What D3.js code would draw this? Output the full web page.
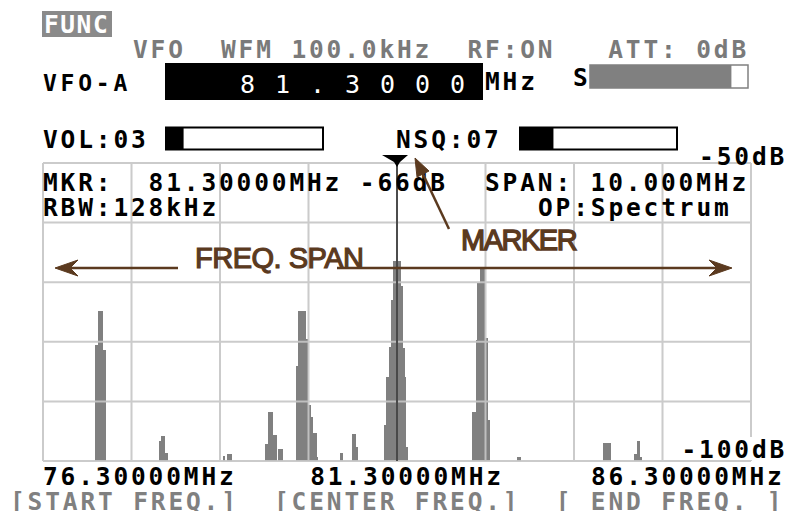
<!DOCTYPE html>
<html>
<head>
<meta charset="utf-8">
<script src="https://cdn.jsdelivr.net/npm/d3@7"></script>
<style>
  body { margin: 0; background: #fff; }
  svg { display: block; }
  text { white-space: pre; }
</style>
</head>
<body>
<div id="chart"></div>
<script>
// spectrum bins: [start MHz, end MHz, level dB]
const spectrum = [
  [77.04, 77.07, -80.5], [77.07, 77.15, -74.8], [77.15, 77.19, -81.4],
  [77.94, 77.96, -96.6], [77.96, 78.02, -95.8], [78.02, 78.06, -98.7],
  [78.84, 78.87, -99.2], [78.90, 78.97, -98.8],
  [79.44, 79.48, -97.2], [79.48, 79.55, -91.7], [79.55, 79.60, -95.6], [79.62, 79.69, -98.0],
  [79.87, 79.90, -84.0], [79.90, 80.02, -74.8], [80.02, 80.04, -79.6], [80.04, 80.08, -90.6],
  [80.08, 80.12, -92.6], [80.12, 80.17, -95.3], [80.17, 80.19, -99.3],
  [80.49, 80.54, -98.7], [80.66, 80.72, -95.5], [80.72, 80.75, -97.6],
  [81.12, 81.15, -94.0], [81.15, 81.19, -85.9], [81.19, 81.22, -80.8], [81.22, 81.25, -73.0],
  [81.25, 81.36, -66.5], [81.36, 81.39, -70.7], [81.39, 81.41, -81.1], [81.41, 81.43, -85.9],
  [81.43, 81.46, -97.6],
  [82.36, 82.41, -91.7], [82.41, 82.43, -79.7], [82.43, 82.47, -70.1], [82.47, 82.54, -67.7],
  [82.54, 82.59, -79.4], [82.59, 82.62, -93.1],
  [82.99, 83.05, -99.3],
  [84.21, 84.32, -96.9],
  [84.65, 84.69, -98.9], [84.69, 84.73, -96.6], [84.73, 84.76, -99.4]
];
const freqTicks = [76.3, 81.3, 86.3];
const levelTicks = [-50, -100];
const freqRange = [76.3, 86.3];
const levelRange = [-100, -50];
const markerFreq = 81.3;
const markerLevel = -66;
const meters = [["VOL:03", 0.112], ["NSQ:07", 0.213]];
const sLevel = 0.895;

const W = 785, H = 511;
const ADV = 17.6, FS = 24.5;
const BROWN = "#5b3a1f", GREY = "#808080";

const svg = d3.select("#chart").append("svg")
  .attr("width", W).attr("height", H);

const x = d3.scaleLinear().domain(freqRange).range([43, 751]);
const y = d3.scaleLinear().domain(levelRange).range([461, 163]);

// monospace LCD style text on a fixed character pitch
function lcd(str, px, py, color, opts) {
  opts = opts || {};
  const fs = opts.size || FS, adv = opts.adv || ADV;
  return svg.append("text")
    .attr("x", px).attr("y", py)
    .attr("font-family", "'DejaVu Sans Mono', monospace")
    .attr("font-weight", opts.weight || "bold")
    .attr("font-size", fs)
    .attr("letter-spacing", adv - 0.602 * fs)
    .attr("fill", color || "#000")
    .text(str);
}

// header
svg.append("rect").attr("x", 42).attr("y", 11).attr("width", 70).attr("height", 26).attr("fill", "#8a8a8a");
lcd("FUNC", 44, 33, "#fff", {adv: 16.3});
lcd("VFO  WFM 100.0kHz  RF:ON   ATT: 0dB", 133, 58, "#7a7a7a");
lcd("VFO-A", 43, 91, "#000", {size: 23});
svg.append("rect").attr("x", 165).attr("y", 63).attr("width", 318).attr("height", 37).attr("fill", "#000");
lcd("81.3000", 240, 93, "#fff", {size: 25, adv: 35, weight: "normal"});
lcd("MHz", 485, 90, "#000");
lcd("S", 573, 86, "#000");

const sx = d3.scaleLinear().domain([0, 1]).range([590, 748]);
svg.append("rect").attr("x", sx(0)).attr("y", 65).attr("width", sx(1) - sx(0)).attr("height", 23)
  .attr("fill", "#fff").attr("stroke", GREY).attr("stroke-width", 1.5);
svg.append("rect").attr("x", sx(0)).attr("y", 65).attr("width", sx(sLevel) - sx(0)).attr("height", 23)
  .attr("fill", GREY);

// VOL / NSQ bars
const meterX = [166, 520];
meters.forEach(([label, v], i) => {
  const bx = meterX[i];
  lcd(label, i === 0 ? 43 : 396, 148, "#000");
  svg.append("rect").attr("x", bx).attr("y", 127.5).attr("width", 157).attr("height", 22)
    .attr("fill", "#fff").attr("stroke", "#000").attr("stroke-width", 2);
  svg.append("rect").attr("x", bx).attr("y", 127.5).attr("width", 157 * v).attr("height", 22)
    .attr("fill", "#000");
});

// spectrum bars
svg.append("g").selectAll("rect")
  .data(spectrum)
  .join("rect")
  .attr("x", d => x(d[0]))
  .attr("width", d => x(d[1]) - x(d[0]))
  .attr("y", d => y(d[2]))
  .attr("height", d => y(levelRange[0]) - y(d[2]))
  .attr("fill", GREY)
  .attr("shape-rendering", "crispEdges");

// grid, 8 x 5 divisions
const vLines = d3.range(9).map(i => freqRange[0] + i * (freqRange[1] - freqRange[0]) / 8);
const hLines = d3.range(levelRange[0], levelRange[1] + 1, 10);
const grid = svg.append("g").attr("stroke", "#c6c6c6").attr("stroke-width", 2).attr("opacity", 0.9);
grid.selectAll(".v").data(vLines).join("line").attr("class", "v")
  .attr("x1", d => x(d)).attr("x2", d => x(d)).attr("y1", y(levelRange[1])).attr("y2", y(levelRange[0]));
grid.selectAll(".h").data(hLines).join("line").attr("class", "h")
  .attr("x1", x(freqRange[0])).attr("x2", x(freqRange[1])).attr("y1", d => y(d)).attr("y2", d => y(d));

// marker
const mx = x(markerFreq);
svg.append("line").attr("x1", mx).attr("x2", mx).attr("y1", y(levelRange[1]) - 4).attr("y2", y(levelRange[0]))
  .attr("stroke", "#222").attr("stroke-width", 1.5);
svg.append("path")
  .attr("d", `M${mx - 15},155 L${mx + 11},155 L${mx + 3},162 L${mx},167 L${mx - 3},162 Z`)
  .attr("fill", "#000");

// readouts
lcd(`MKR:  ${markerFreq.toFixed(5)}MHz ${markerLevel}dB`, 43, 191, "#000");
lcd(`SPAN: ${(freqRange[1] - freqRange[0]).toFixed(3)}MHz`, 485, 191, "#000");
lcd("RBW:128kHz", 43, 216, "#000");
lcd("OP:Spectrum", 538, 216, "#000");

// level labels
levelTicks.forEach(d => {
  const s = d + "dB";
  const px = 783 - (s.length - 1) * ADV - 13.5;
  const py = d === levelRange[1] ? y(d) + 2 : y(d) - 3;
  if (d === levelRange[0]) {
    svg.append("rect").attr("x", px - 2).attr("y", py - 21).attr("width", W - px).attr("height", 23).attr("fill", "#fff");
  }
  lcd(s, px, py, "#000");
});

// frequency labels
freqTicks.forEach((d, i) => {
  const s = d.toFixed(5) + "MHz";
  const w = (s.length - 1) * ADV + 13.5;
  const px = i === 0 ? x(d) : i === freqTicks.length - 1 ? 591 : x(d) + 8 - w / 2;
  lcd(s, px, 485, "#000");
});
lcd("[START FREQ.]  [CENTER FREQ.]  [ END FREQ. ]", 10, 510, GREY);

// annotations
const ay = 268;
const ann = svg.append("g").attr("fill", BROWN).attr("stroke", BROWN);
ann.append("line").attr("x1", x(freqRange[0]) + 20).attr("x2", 178).attr("y1", ay).attr("y2", ay).attr("stroke-width", 2.5);
ann.append("line").attr("x1", 337).attr("x2", x(freqRange[1]) - 25).attr("y1", ay).attr("y2", ay).attr("stroke-width", 2.5);
const lx = x(freqRange[0]) + 12, rx = x(freqRange[1]) - 19;
ann.append("path").attr("stroke-width", 1)
  .attr("d", `M${lx},${ay} L${lx + 23},${ay - 8} L${lx + 15},${ay} L${lx + 23},${ay + 8} Z`);
ann.append("path").attr("stroke-width", 1)
  .attr("d", `M${rx},${ay} L${rx - 23},${ay - 8} L${rx - 15},${ay} L${rx - 23},${ay + 8} Z`);
ann.append("line").attr("x1", 449).attr("y1", 229).attr("x2", 421).attr("y2", 170).attr("stroke-width", 2.5);
ann.append("path").attr("stroke-width", 1)
  .attr("d", "M415,158 L429,171 L417,177 Z");
ann.append("text").attr("x", 195).attr("y", ay).attr("stroke-width", 1.2)
  .attr("font-family", "'Liberation Sans', Arial, sans-serif").attr("font-size", 29)
  .attr("letter-spacing", -0.5)
  .text("FREQ. SPAN");
ann.append("text").attr("x", 461).attr("y", 250).attr("stroke-width", 1.4)
  .attr("font-family", "'Liberation Sans', Arial, sans-serif").attr("font-size", 29)
  .attr("letter-spacing", -1.5)
  .text("MARKER");
</script>
</body>
</html>
